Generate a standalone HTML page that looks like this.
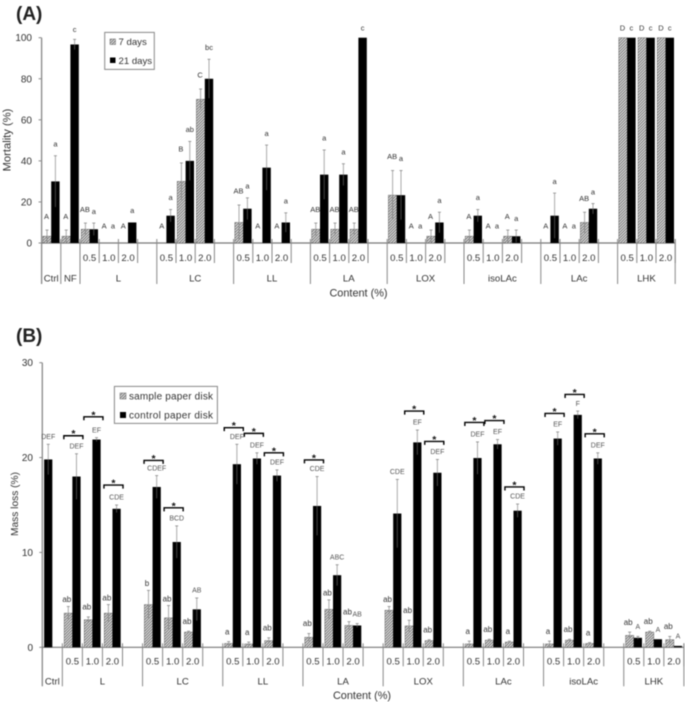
<!DOCTYPE html>
<html>
<head>
<meta charset="utf-8">
<title>Mortality and mass loss charts</title>
<style>
html,body{margin:0;padding:0;background:#fff;width:685px;height:702px;overflow:hidden}
svg{display:block;filter:blur(.45px)}
text{font-family:"Liberation Sans",sans-serif;fill:#333}
</style>
</head>
<body>
<svg id="figure" xmlns="http://www.w3.org/2000/svg" width="685" height="702" viewBox="0 0 685 702">
<defs>
<pattern id="hatch" patternUnits="userSpaceOnUse" width="2" height="2" patternTransform="rotate(45)">
<rect width="2" height="2" fill="#e4e4e4"></rect>
<rect width="1" height="2" fill="#777"></rect>
</pattern>
</defs>
<text x="16" y="20" font-size="19" font-weight="bold" style="fill:#222">(A)</text>
<text x="16" y="342" font-size="19" font-weight="bold" style="fill:#222">(B)</text>
<g>
<rect x="104.7" y="32.4" width="49.6" height="37" fill="#fff" stroke="#888" stroke-width="1"></rect>
<rect x="110" y="39" width="5.5" height="5.5" fill="url(#hatch)" stroke="#666" stroke-width=".5"></rect>
<text x="118.5" y="45.2" font-size="9.6">7 days</text>
<rect x="110" y="57.5" width="5.5" height="5.5" fill="#000"></rect>
<text x="118.5" y="64" font-size="9.6">21 days</text>
</g>
<g id="legend-b-layer"></g>
</svg>
<script>
const aGroups = ['Ctrl','NF','L','LC','LL','LA','LOX','isoLAc','LAc','LHK'];
const aGroupSlots = [1,1,4,4,4,4,4,4,4,3];
const aTicks = [0,20,40,60,80,100];
const a7days = [3.3,3.3, 6.7,0,0,null, 0,30,70,null, 10,0,0,null, 6.7,6.7,6.7,null, 23.3,0,3.3,null, 3.3,0,3.3,null, 0,0,10,null, 100,100,100];
const a21days = [30,96.7, 6.7,0,10,null, 13.3,40,80,null, 16.7,36.7,10,null, 33.3,33.3,100,null, 23.3,0,10,null, 13.3,0,3.3,null, 13.3,0,16.7,null, 100,100,100];
const a7err = [3,3, 3,0,0,0, 0,9,5,0, 8.5,0,0,0, 3,3,3,0, 12,0,3,0, 3,0,3,0, 0,0,5,0, 0,0,0];
const a21err = [12.5,2.5, 3,0,0,0, 3,9.5,9.5,0, 5.3,11,4.7,0, 12,5.3,0,0, 12,0,5,0, 3,0,3,0, 11,0,2.5,0, 0,0,0];
const a7labels = ['A','A', 'AB','A','A','', 'A','B','C','', 'AB','A','A','', 'AB','AB','AB','', 'AB','A','A','', 'A','A','A','', 'A','A','AB','', 'D','D','D'];
const a21labels = ['a','c', 'a','a','a','', 'a','ab','bc','', 'a','a','a','', 'a','a','c','', 'a','a','a','', 'a','a','a','', 'a','a','a','', 'c','c','c'];

const bGroups = ['Ctrl','L','LC','LL','LA','LOX','LAc','isoLAc','LHK'];
const bGroupSlots = [1,4,4,4,4,4,4,4,3];
const bTicks = [0,10,20,30];
const bSample = [null, 3.6,2.9,3.6,null, 4.5,3.1,1.6,null, 0.4,0.35,0.7,null, 1.05,4.0,2.3,null, 3.9,2.25,0.7,null, 0.35,0.75,0.55,null, 0.35,0.75,0.4,null, 1.25,1.6,0.8];
const bControl = [19.8, 18,21.9,14.6,null, 16.9,11.1,4.0,null, 19.3,19.9,18.1,null, 14.9,7.6,2.3,null, 14.1,21.6,18.4,null, 19.95,21.4,14.4,null, 22,24.5,19.9,null, 1.0,0.85,0.15];
const bSampleErr = [0, 0.7,0.3,0.9,0, 1.5,1.3,0.1,0, 0.2,0.2,0.3,0, 0.4,1,0.4,0, 0.4,0.6,0.1,0, 0.3,0.1,0.1,0, 0.3,0.1,0.1,0, 0.35,0.1,0.35];
const bControlErr = [1.6, 2.4,0.2,0.4,0, 1.2,1.7,1.2,0, 2.1,0.6,0.6,0, 3.1,1.1,0.2,0, 3.6,1.3,1.4,0, 1.7,0.5,0.7,0, 0.7,0.4,0.6,0, 0.15,0,0];
const bSampleLabels = ['', 'ab','ab','ab','', 'b','ab','ab','', 'a','a','ab','', 'ab','ab','ab','', 'ab','ab','ab','', 'a','ab','a','', 'a','ab','a','', 'ab','ab','ab'];
const bControlLabels = ['DEF', 'DEF','EF','CDE','', 'CDEF','BCD','AB','', 'DEF','DEF','DEF','', 'CDE','ABC','AB','', 'CDE','EF','DEF','', 'DEF','EF','CDE','', 'EF','F','DEF','', 'A','A','A'];
const bBracketSlots = [1,2,3, 5,6, 9,10,11, 13, 18,19, 21,22,23, 25,26,27];
const bBracketLevels = [22.3,24.3,17.1, 19.7,14.7, 23.15,22.55,20.5, 19.75, 24.9,21.7, 23.7,23.9,16.9, 24.65,26.65,22.5];

const doses = ['0.5','1.0','2.0'];
const legendBNames = ['sample paper disk','control paper disk'];

const NS = 'http://www.w3.org/2000/svg';
const svg = document.getElementById('figure');
function mk(tag, attrs, parent, txt) {
  const el = document.createElementNS(NS, tag);
  for (const k in attrs) el.setAttribute(k, attrs[k]);
  if (txt !== undefined) el.textContent = txt;
  (parent || svg).appendChild(el);
  return el;
}

function drawAxes(p, g) {
  const yAxis = mk('line', {x1:p.x0,x2:p.x0,y1:p.yTop,y2:p.y0+p.longTick,stroke:'#888','stroke-width':1.3}, g);
  
  
  const total = p.slots.reduce((a,b)=>a+b,0);
  const xAxis = mk('line', {x1:p.x0,x2:p.x0+total*p.w,y1:p.y0,y2:p.y0,stroke:'#777','stroke-width':1.2}, g);
  
  
  p.ticks.forEach(function(t){
    const y = p.y(t);
    const tick = mk('line', {x1:p.x0-3,x2:p.x0,y1:y,y2:y,stroke:'#888','stroke-width':1}, g);
    
    
    const lab = mk('text', {x:p.tickRight,y:y+3.5,'font-size':10,'text-anchor':'end'}, g, String(t));
    
    
  });
  let s = 0;
  p.groups.forEach(function(name, gi){
    const n = p.slots[gi];
    const gx = p.x0 + s*p.w;
    const end = gx + n*p.w;
    const groupTick = mk('line', {x1:end,x2:end,y1:p.y0-4,y2:p.y0+p.longTick,stroke:'#888','stroke-width':1}, g);
    
    
    const groupLabel = mk('text', {x:(gx+end)/2,y:p.y0+p.groupY,'font-size':9.6,'text-anchor':'middle'}, g, name);
    
    
    if (n > 1) {
      doses.forEach(function(d, di){
        const sx = gx + di*p.w;
        const doseLabel = mk('text', {x:sx+p.w/2,y:p.y0+p.doseY,'font-size':9.6,'text-anchor':'middle'}, g, d);
        
        
        const inner = mk('line', {x1:sx+p.w,x2:sx+p.w,y1:p.y0-4,y2:p.y0+p.shortTick,stroke:'#888','stroke-width':1}, g);
        
        
      });
    }
    s += n;
  });
}

function drawBar(p, g, val, err, cx, black, label, gap, fs, col, name, labelShift) {
  if (val === null) return;
  const top = p.y(val);
  if (val > 0) {
    const bar = mk('rect', {x:cx-p.bw/2,y:top,width:p.bw,height:p.y0-top,fill:black?'#000':'url(#hatch)',stroke:black?'none':'#666','stroke-width':.5}, g);
    
    
  }
  let labelBase = top;
  if (err > 0 && val > 0) {
    const hi = p.y(val + err), lo = p.y(Math.max(val - err, 0));
    const upper = mk('line', {x1:cx,x2:cx,y1:hi,y2:top,stroke:'#aaa','stroke-width':1}, g);
    
    
    const lower = mk('line', {x1:cx,x2:cx,y1:top,y2:lo,stroke:black?'#444':'#888','stroke-width':1}, g);
    
    
    const cap = mk('line', {x1:cx-1.5,x2:cx+1.5,y1:hi,y2:hi,stroke:'#888','stroke-width':.8}, g);
    
    
    labelBase = hi;
  }
  if (label) {
    const t = mk('text', {x:cx+labelShift,y:labelBase-gap+2.7,'font-size':fs,'text-anchor':'middle'}, g, label);
    t.style.fill = col;
    
    
  }
}

/* Panel A */
const pa = {x0:41.6,w:19.2,y0:243,yTop:37.7,bw:8.4,longTick:41,shortTick:20,doseY:18,groupY:38.5,tickRight:32,
  slots:aGroupSlots,groups:aGroups,ticks:aTicks,y:function(v){return 243 - v*2.053;}};
const ga = mk('g', {});


drawAxes(pa, ga);
a7days.forEach(function(v,i){
  const c = pa.x0 + (i+.5)*pa.w;
  const w = a21days[i];
  drawBar(pa, ga, v, a7err[i], c-pa.bw/2, false, a7labels[i], v===0?17:(v>=96?10:14), 7.5, '#333', 'bar-7-days', -.5);
  drawBar(pa, ga, w, a21err[i], c+pa.bw/2, true, a21labels[i], w===0?17:(w>=96?10:12), 7.5, '#333', 'bar-21-days', 0);
});
const ax = mk('text', {x:358.5,y:296.5,'font-size':10.9,'text-anchor':'middle'}, ga, 'Content (%)');


const ay = mk('text', {x:0,y:0,'font-size':11.2,'text-anchor':'middle',transform:'translate(10.5,140) rotate(-90)'}, ga, 'Mortality (%)');



/* Panel B */
const pb = {x0:42.3,w:20.05,y0:647.3,yTop:362.7,bw:8.2,longTick:39,shortTick:19,doseY:17,groupY:37,tickRight:33,
  slots:bGroupSlots,groups:bGroups,ticks:bTicks,y:function(v){return 647.3 - v*9.487;}};
const gb = mk('g', {});


drawAxes(pb, gb);
bControl.forEach(function(v,i){
  const c = pb.x0 + (i+.5)*pb.w;
  const single = bSample[i] === null;
  const s = bSample[i];
  drawBar(pb, gb, s, bSampleErr[i], c-pb.bw/2, false, bSampleLabels[i], s<3?10:7, 8, '#333', 'bar-sample-disk', -1.5);
  drawBar(pb, gb, v, bControlErr[i], single ? c-pb.bw/2 : c+pb.bw/2, true, bControlLabels[i], v<3?10:8, 7, '#555', 'bar-control-disk', 0);
});
bBracketSlots.forEach(function(s,i){
  const xl = pb.x0 + s*pb.w + 1.5, xr = xl + pb.w - 1, y = pb.y(bBracketLevels[i]);
  const br = mk('path', {d:'M'+xl+' '+(y+3.5)+'V'+y+'H'+xr+'V'+(y+3.5),fill:'none',stroke:'#000','stroke-width':1.4}, gb);
  
  
  const star = mk('text', {x:(xl+xr)/2,y:y+1.5,'font-size':10.5,'font-weight':'bold','text-anchor':'middle'}, gb, '*');
  star.style.fill = '#111';
  
  
});
const bx = mk('text', {x:362,y:699,'font-size':10.9,'text-anchor':'middle'}, gb, 'Content (%)');


const by = mk('text', {x:0,y:0,'font-size':10.2,'text-anchor':'middle',transform:'translate(18,504) rotate(-90)'}, gb, 'Mass loss (%)');



/* Legend B, drawn on top of the chart */
const lb = document.getElementById('legend-b-layer');
svg.appendChild(lb);
const lbBox = mk('rect', {x:114.4,y:386.4,width:103,height:37,fill:'#fff',stroke:'#888','stroke-width':1}, lb);


legendBNames.forEach(function(n,i){
  const ly = 396 + i*19;
  const sw = mk('rect', {x:120,y:ly-3,width:6,height:6,fill:i?'#000':'url(#hatch)',stroke:i?'none':'#666','stroke-width':.5}, lb);
  
  
  const t = mk('text', {x:129,y:ly+3.5,'font-size':10,textLength:84}, lb, n);
  
  
});
</script>
</body>
</html>
